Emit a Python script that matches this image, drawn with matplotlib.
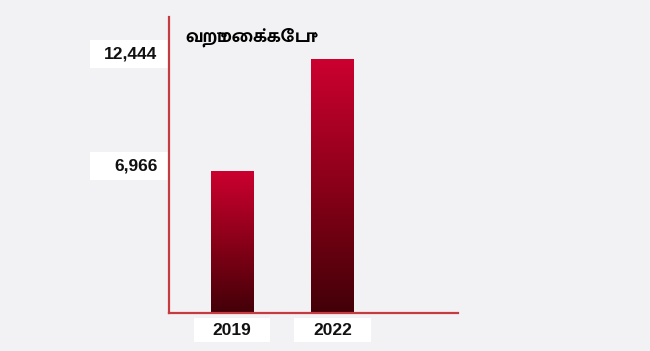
import numpy as np
import matplotlib.pyplot as plt
import matplotlib.transforms as mtransforms
from matplotlib.patches import Rectangle
from matplotlib.colors import LinearSegmentedColormap
from matplotlib import font_manager
from matplotlib.ft2font import FT2Font

years = ["2019", "2022"]
values = [6966, 12444]
value_labels = ["6,966", "12,444"]
title = "வறுமைக்கோடு"

# find a font file that can draw Tamil, bold one preferred
tamil_file = None
for f in sorted(font_manager.findSystemFonts(), key=lambda p: "Bold" not in p):
    try:
        if FT2Font(f).get_char_index(ord("வ")) != 0:
            tamil_file = f
            break
    except Exception:
        pass

W, H = 650, 351
bg = "#f2f2f4"
fig = plt.figure(figsize=(W / 100, H / 100), dpi=100, facecolor=bg)
left, right, top, bottom = 169, 458, 17, 313
ax = fig.add_axes([left / W, 1 - bottom / H, (right - left) / W, (bottom - top) / H])
ax.set_facecolor("none")

x = np.arange(len(years))
bars = ax.bar(x, values, width=0.42, color="none")
ax.set_xlim(-0.627, 2.249)
ax.set_ylim(0, 14500)

# vertical gradient inside each bar
grad = np.linspace(0, 1, 256).reshape(-1, 1)
cmap = LinearSegmentedColormap.from_list("redgrad", ["#420008", "#8a0018", "#cc0030"])
for b in bars:
    x0, w, h = b.get_x(), b.get_width(), b.get_height()
    im = ax.imshow(grad, extent=[x0, x0 + w, 0, h], origin="lower", cmap=cmap,
                   aspect="auto", zorder=2)
    im.set_clip_path(b)

for s in ["top", "right"]:
    ax.spines[s].set_visible(False)
for s in ["left", "bottom"]:
    ax.spines[s].set_color("#c43c40")
    ax.spines[s].set_linewidth(1.6)
ax.set_xticks([])
ax.set_yticks([])

# value labels in white boxes left of the axis
blend = mtransforms.blended_transform_factory(ax.transAxes, ax.transData)
up = mtransforms.ScaledTranslation(0, 3.5 / 72, fig.dpi_scale_trans)
for v, lab in zip(values, value_labels):
    ax.add_patch(Rectangle((-0.273, v - 680), 0.268, 1360, transform=blend + up,
                           facecolor="white", edgecolor="none", clip_on=False))
    ax.text(-0.04, v, lab, transform=blend + up, ha="right", va="center",
            fontsize=12.5, fontweight="bold", family="Liberation Sans", color="#111111")

# year labels in white boxes under the bars
blend2 = mtransforms.blended_transform_factory(ax.transData, ax.transAxes)
for xi, yr in zip(x, years):
    ax.add_patch(Rectangle((xi - 0.383, -0.099), 0.766, 0.081, transform=blend2,
                           facecolor="white", edgecolor="none", clip_on=False))
    ax.text(xi, -0.058, yr, transform=blend2, ha="center", va="center",
            fontsize=12.5, fontweight="bold", family="Liberation Sans", color="#111111")

if tamil_file:
    tprop = font_manager.FontProperties(fname=tamil_file, size=14, weight="bold")
else:
    tprop = font_manager.FontProperties(family="DejaVu Sans", size=14, weight="bold")
fig.text(185 / W, 1 - 37 / H, title, ha="left", va="center",
         fontproperties=tprop, color="#000000")

fig.savefig("out.png", dpi=100, facecolor=bg)
